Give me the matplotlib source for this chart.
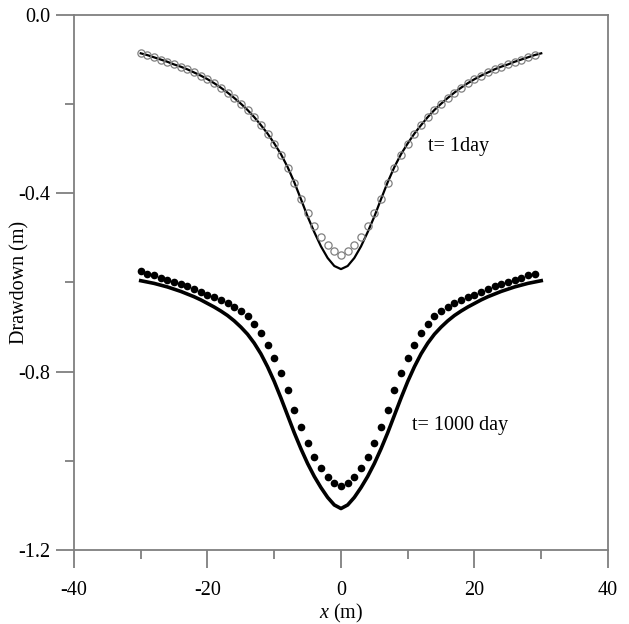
import numpy as np
import matplotlib
matplotlib.use("Agg")
import matplotlib.pyplot as plt

# =========================
# DATA
# =========================
x_line = list(range(-30, 31))
x_pts = list(range(-30, 30))

# t = 1 day, solid line
s1_line = [-0.086, -0.090, -0.095, -0.100, -0.105, -0.111, -0.116, -0.122, -0.129, -0.136,
           -0.144, -0.153, -0.163, -0.174, -0.186, -0.199, -0.213, -0.229, -0.247, -0.266,
           -0.288, -0.312, -0.341, -0.375, -0.413, -0.452, -0.487, -0.519, -0.545, -0.563,
           -0.570,
           -0.563, -0.545, -0.519, -0.487, -0.452, -0.413, -0.375, -0.341, -0.312, -0.288,
           -0.266, -0.247, -0.229, -0.213, -0.199, -0.186, -0.174, -0.163, -0.153, -0.144,
           -0.136, -0.129, -0.122, -0.116, -0.111, -0.105, -0.100, -0.095, -0.090, -0.086]

# t = 1 day, open circles
s1_pts = [-0.086, -0.090, -0.095, -0.100, -0.105, -0.111, -0.116, -0.122, -0.129, -0.136,
          -0.144, -0.153, -0.163, -0.174, -0.186, -0.199, -0.213, -0.229, -0.247, -0.266,
          -0.289, -0.313, -0.343, -0.377, -0.412, -0.445, -0.474, -0.497, -0.516, -0.530,
          -0.538,
          -0.530, -0.516, -0.497, -0.474, -0.445, -0.412, -0.377, -0.343, -0.313, -0.289,
          -0.266, -0.247, -0.229, -0.213, -0.199, -0.186, -0.174, -0.163, -0.153, -0.144,
          -0.136, -0.129, -0.122, -0.116, -0.111, -0.105, -0.100, -0.095, -0.090]

# t = 1000 day, solid line
s1000_line = [-0.596, -0.599, -0.602, -0.606, -0.610, -0.615, -0.620, -0.626, -0.632, -0.639,
              -0.647, -0.655, -0.664, -0.674, -0.686, -0.700, -0.716, -0.736, -0.760, -0.789,
              -0.822, -0.859, -0.898, -0.937, -0.973, -1.006, -1.035, -1.060, -1.082, -1.099,
              -1.107,
              -1.099, -1.082, -1.060, -1.035, -1.006, -0.973, -0.937, -0.898, -0.859, -0.822,
              -0.789, -0.760, -0.736, -0.716, -0.700, -0.686, -0.674, -0.664, -0.655, -0.647,
              -0.639, -0.632, -0.626, -0.620, -0.615, -0.610, -0.606, -0.602, -0.599, -0.596]

# t = 1000 day, filled dots
s1000_pts = [-0.574, -0.580, -0.584, -0.589, -0.594, -0.599, -0.604, -0.609, -0.615, -0.621,
             -0.627, -0.633, -0.640, -0.647, -0.655, -0.664, -0.675, -0.692, -0.714, -0.740,
             -0.770, -0.804, -0.842, -0.885, -0.925, -0.961, -0.992, -1.017, -1.036, -1.049,
             -1.057,
             -1.049, -1.036, -1.017, -0.992, -0.961, -0.925, -0.885, -0.842, -0.804, -0.770,
             -0.740, -0.714, -0.692, -0.675, -0.664, -0.655, -0.647, -0.640, -0.633, -0.627,
             -0.621, -0.615, -0.609, -0.604, -0.599, -0.594, -0.589, -0.584, -0.580]

# =========================
# STYLE
# =========================
plt.rcParams["font.family"] = ["Liberation Serif", "DejaVu Serif"]
plt.rcParams["mathtext.fontset"] = "custom"
plt.rcParams["mathtext.it"] = "Liberation Serif:italic"
plt.rcParams["mathtext.rm"] = "Liberation Serif"

spine_col = "#7f7f7f"

fig = plt.figure(figsize=(6.29, 6.24), dpi=100)
ax = fig.add_axes([0.1176, 0.1186, 0.8490, 0.8574])

# =========================
# PLOT
# =========================
ax.plot(x_line, s1_line, color="black", lw=1.6, zorder=2)
ax.plot(x_pts, s1_pts, ls="none", marker="o", ms=5.2, mfc="none",
        mec="#808080", mew=0.9, zorder=3)

ax.plot(x_line, s1000_line, color="black", lw=2.6, zorder=2)
ax.plot(x_pts, s1000_pts, ls="none", marker="o", ms=5.5, mfc="black",
        mec="black", mew=0, zorder=3)

ax.text(13.0, -0.294, "t= 1day", fontsize=14.5, va="center", ha="left")
ax.text(10.6, -0.92, "t= 1000 day", fontsize=14.5, va="center", ha="left")

ax.set_xlim(-40, 40)
ax.set_ylim(-1.2, 0.0)
ax.set_xticks([-40, -20, 0, 20, 40])
ax.set_xticks([-30, -10, 10, 30], minor=True)
ax.set_yticks([0.0, -0.4, -0.8, -1.2])
ax.set_yticks([-0.2, -0.6, -1.0], minor=True)
ax.set_yticklabels(["0.0", "-0.4", "-0.8", "-1.2"])
ax.set_xticklabels(["-40", "-20", "0", "20", "40"])

for sp in ax.spines.values():
    sp.set_color(spine_col)
    sp.set_linewidth(1.3)

ax.tick_params(which="major", direction="out", length=13, width=1.3,
               color=spine_col, labelsize=14.5, pad=4)
ax.tick_params(which="minor", direction="out", length=6.5, width=1.3,
               color=spine_col)
ax.tick_params(axis="x", which="major", pad=9)

ax.set_xlabel("$x$ (m)", fontsize=14.5, labelpad=2)
ax.set_ylabel("Drawdown (m)", fontsize=14.5)
ax.yaxis.set_label_coords(-0.084, 0.5)

fig.savefig("out.png", dpi=100)
